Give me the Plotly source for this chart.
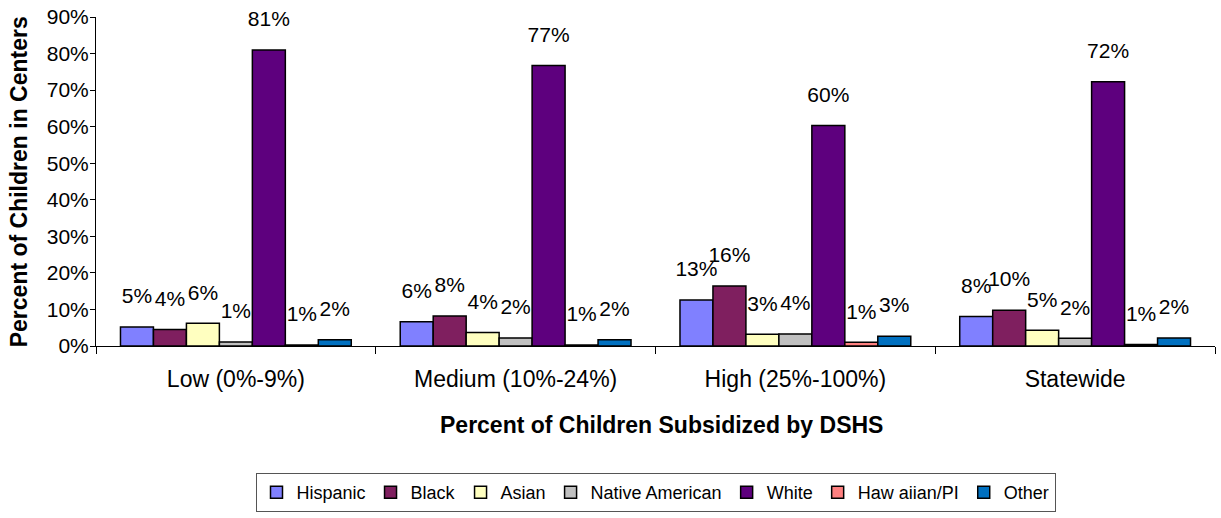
import plotly.graph_objects as go

categories = ["Low (0%-9%)", "Medium (10%-24%)", "High (25%-100%)", "Statewide"]
series_names = ["Hispanic", "Black", "Asian", "Native American", "White", "Haw aiian/PI", "Other"]
hispanic = [5.2, 6.6, 12.6, 8.1]
black = [4.5, 8.2, 16.4, 9.8]
asian = [6.2, 3.7, 3.2, 4.3]
native = [1.1, 2.2, 3.3, 2.1]
white = [81.0, 76.7, 60.3, 72.3]
hawaiian = [0.3, 0.3, 1.0, 0.4]
other = [1.7, 1.7, 2.7, 2.2]
labels = [
    ["5%", "6%", "13%", "8%"],
    ["4%", "8%", "16%", "10%"],
    ["6%", "4%", "3%", "5%"],
    ["1%", "2%", "4%", "2%"],
    ["81%", "77%", "60%", "72%"],
    ["1%", "1%", "1%", "1%"],
    ["2%", "2%", "3%", "2%"],
]
colors = ["#8080FF", "#7F1F5F", "#FFFFC0", "#C0C0C0", "#5E007E", "#FF8080", "#0070C0"]
values = [hispanic, black, asian, native, white, hawaiian, other]

FONT = "Liberation Sans, Arial, sans-serif"
GAP = 0.175

fig = go.Figure()
for name, vals, col in zip(series_names, values, colors):
    fig.add_trace(go.Bar(
        name=name, x=categories, y=[v / 100 for v in vals],
        marker=dict(color=col, line=dict(color="black", width=1.5)),
    ))
# data labels: invisible markers so the text floats above each bar
for name, vals, lab in zip(series_names, values, labels):
    fig.add_trace(go.Scatter(
        x=categories, y=[v / 100 for v in vals], text=lab,
        mode="markers+text", textposition="top center", cliponaxis=False,
        marker=dict(size=28, opacity=0, color="white"),
        textfont=dict(family=FONT, size=21, color="black"),
        showlegend=False, hoverinfo="skip", name=name + " label",
    ))

fig.update_layout(
    width=1221, height=518,
    margin=dict(l=96, r=6, t=17, b=172, autoexpand=False),
    plot_bgcolor="white", paper_bgcolor="white",
    barmode="group", bargap=GAP, bargroupgap=0,
    scattermode="group", scattergap=GAP,
    font=dict(family=FONT, size=21, color="black"),
    showlegend=True,
    legend=dict(orientation="h", x=0.5, xanchor="center", y=-0.386, yanchor="top",
                bordercolor="#555555", borderwidth=1, font=dict(size=18, family=FONT),
                traceorder="normal", itemwidth=30, tracegroupgap=0),
    xaxis=dict(showline=True, linecolor="black", linewidth=1, ticks="outside",
               tickson="boundaries", ticklen=7, tickcolor="black", showgrid=False,
               ticklabelstandoff=12, tickfont=dict(size=23, family=FONT)),
    yaxis=dict(range=[0, 0.9], dtick=0.1, tickformat=".0%", showline=True, linecolor="black",
               linewidth=1, ticks="outside", ticklen=5, tickcolor="black", showgrid=False,
               zeroline=False, ticklabeloverflow="allow", ticklabelstandoff=-3,
               tickfont=dict(size=21, family=FONT)),
    annotations=[
        dict(text="<b>Percent of Children Subsidized by DSHS</b>", xref="paper", yref="paper",
             x=0.505, y=-0.24, xanchor="center", yanchor="middle", showarrow=False,
             font=dict(size=23, family=FONT)),
        dict(text="<b>Percent of Children in Centers</b>", xref="paper", yref="paper",
             x=-0.069, xanchor="center", y=0.5, yanchor="middle", textangle=-90, showarrow=False,
             font=dict(size=23, family=FONT)),
    ],
)

fig.write_html("out.html", config={"displayModeBar": False},
               post_script="document.body.style.margin='0';")
